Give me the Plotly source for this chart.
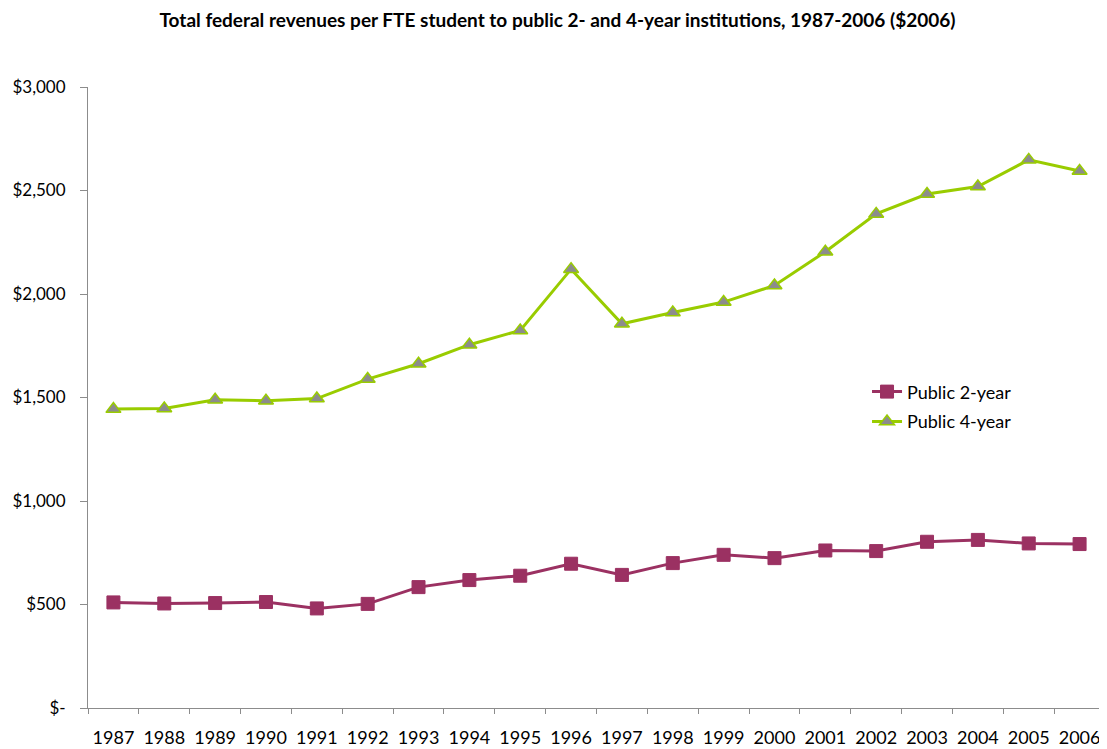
import plotly.graph_objects as go

years = [str(y) for y in range(1987, 2007)]
public_2yr = [510, 505, 507, 512, 481, 503, 584, 618, 639, 697,
              643, 700, 740, 724, 761, 758, 803, 812, 795, 792]
public_4yr = [1444, 1447, 1489, 1484, 1495, 1589, 1663, 1755, 1824, 2120,
              1856, 1911, 1961, 2041, 2204, 2387, 2483, 2519, 2648, 2594]
y_tickvals = [0, 500, 1000, 1500, 2000, 2500, 3000]
y_ticktext = ["$-", "$500", "$1,000", "$1,500", "$2,000", "$2,500", "$3,000"]

font_family = "Lato, Open Sans, sans-serif"

fig = go.Figure()
fig.add_trace(go.Scatter(
    x=years, y=public_2yr, name="Public 2-year", mode="lines+markers",
    line=dict(color="#9B3162", width=3),
    marker=dict(symbol="square", size=13, color="#9B3162",
                line=dict(color="#9B3162", width=1)),
    legend="legend",
))
fig.add_trace(go.Scatter(
    x=years, y=public_4yr, name="Public 4-year", mode="lines+markers",
    line=dict(color="#99CC00", width=3),
    marker=dict(symbol="triangle-up", size=13, color="#8C8C8C",
                line=dict(color="#99CC00", width=1.5)),
    legend="legend2",
))

legend_common = dict(xanchor="left", yanchor="middle",
                     bgcolor="rgba(0,0,0,0)", font=dict(size=18))

fig.update_layout(
    width=1099, height=741,
    margin=dict(l=80, r=2, t=79, b=41, autoexpand=False),
    paper_bgcolor="white", plot_bgcolor="white",
    font=dict(family=font_family, size=18, color="#000000"),
    title=dict(
        text="<b>Total federal revenues per FTE student to public 2- and 4-year institutions, 1987-2006 ($2006)</b>",
        x=0.5, xanchor="center", y=0.984, yanchor="middle",
        font=dict(family=font_family, size=19, color="#000000"),
    ),
    legend=dict(x=0.766, y=0.509, **legend_common),
    legend2=dict(x=0.766, y=0.461, **legend_common),
    showlegend=True,
)
fig.update_xaxes(
    type="category", range=[-0.5, 19.5],
    showline=True, linecolor="#8C8C8C", linewidth=1,
    ticks="outside", tickson="boundaries", ticklen=5, tickcolor="#8C8C8C",
    showgrid=False, zeroline=False, tickfont=dict(size=18),
    ticklabelstandoff=13,
)
fig.update_yaxes(
    range=[0, 3000], tickvals=y_tickvals, ticktext=y_ticktext,
    showline=True, linecolor="#8C8C8C", linewidth=1,
    ticks="outside", ticklen=7, tickcolor="#8C8C8C",
    showgrid=False, zeroline=False, tickfont=dict(size=17),
    ticklabelstandoff=11,
)

fig.write_html("out.html")
